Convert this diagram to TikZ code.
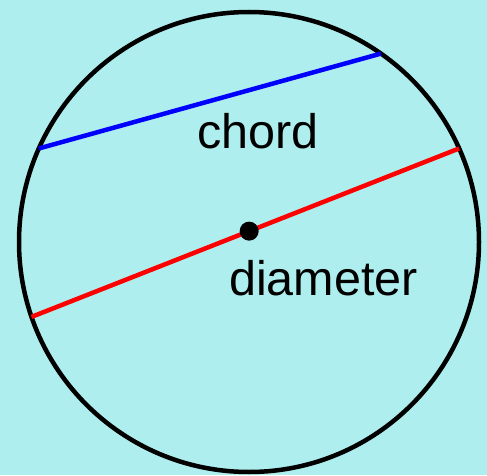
\documentclass[tikz,border=0pt]{standalone}
\usepackage{fontspec}
\setmainfont{Liberation Sans}
\usetikzlibrary{calc}
\definecolor{paleturq}{HTML}{AFEEEE}
\begin{document}
\begin{tikzpicture}[
    x=1pt, y=1pt,
    rim/.style={circle, draw=black, line width=4.5pt, minimum size=460pt, inner sep=0pt, outer sep=0pt},
    chordline/.style={draw=blue, line width=4.5pt},
    diamline/.style={draw=red, line width=4.5pt},
    centerdot/.style={circle, fill=black, minimum size=19pt, inner sep=0pt},
    label/.style={anchor=base west, inner sep=0pt, font=\fontsize{48.5}{58}\selectfont},
]
    % Background
    \fill[paleturq] (0, 0) rectangle (487, 475);
    \useasboundingbox (0, 0) rectangle (487, 475);

    % Circle
    \node[rim] (circ) at (249, 233) {};

    % Chord and diameter
    \draw[chordline] (circ.156.5) -- (circ.55.7);
    \draw[diamline] (circ.199.9) -- (circ.24.8);
    \node[centerdot] (mid) at ($(circ.199.9)!0.509!(circ.24.8)$) {};

    % Labels
    \node[label] (chordlbl) at (197, 327) {chord};
    \node[label] (diamlbl) at (229, 180) {diameter};
\end{tikzpicture}
\end{document}
